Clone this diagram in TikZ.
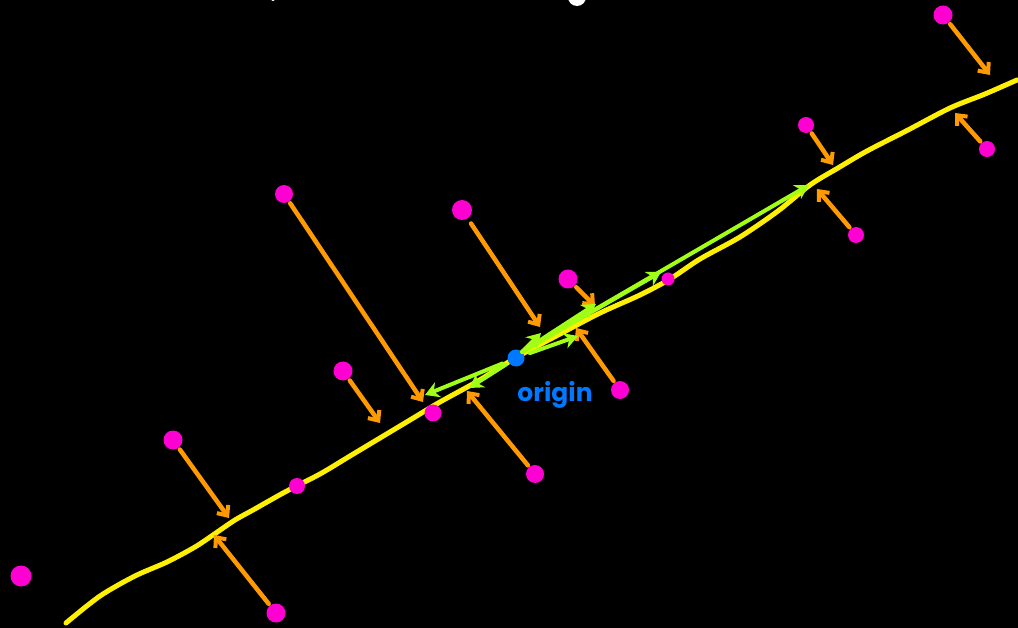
\documentclass[tikz,border=0pt]{standalone}
\usepackage{fontspec}
\newfontfamily\handfont{Poppins}
\usetikzlibrary{arrows.meta}
\definecolor{lineyellow}{RGB}{255,240,0}
\definecolor{arroworange}{RGB}{255,155,0}
\definecolor{dotmagenta}{RGB}{255,0,210}
\definecolor{arrowgreen}{RGB}{160,255,20}
\definecolor{originblue}{RGB}{0,120,255}
\tikzset{
  dotnode/.style={circle, fill=dotmagenta, inner sep=0pt, minimum size=16pt},
  smalldot/.style={dotnode, minimum size=13pt},
  oarrow/.style={draw=arroworange, line width=4.5pt, line cap=round, line join=round,
     -{Straight Barb[length=8pt,width=14pt,line width=4pt]}, shorten <=2pt},
  garrow/.style={draw=arrowgreen, line width=4pt, line cap=round,
     -{Stealth[length=14pt,width=16pt]}},
  yline/.style={draw=lineyellow, line width=5pt, line cap=round},
}
\begin{document}
\begin{tikzpicture}[x=1pt,y=-1pt]
\fill[black] (0,0) rectangle (1018,628);
\useasboundingbox (0,0) rectangle (1018,628);
% white marks at top edge
\fill[white] (577,-3) circle (9);
\fill[white] (273,-1) circle (2);
% yellow line
\draw[yline] plot[smooth, tension=0.5] coordinates {(66,623) (100,596) (135,576) (167,562) (195,547) (213,535) (235,520) (253,510) (285,492) (320,474) (350,456) (380,438) (410,420) (440,402) (478,381) (517,357) (560,334) (600,313) (640,295) (670,279) (700,259) (740,237) (778,211) (810,185) (838,168) (867,151) (908,130) (950,108) (985,94) (1017,80)};
% coordinates on the line
\coordinate (p1) at (990,75);
\coordinate (p2) at (833,165);
\coordinate (p3) at (955,113);
\coordinate (p4) at (817,189);
\coordinate (p5) at (423,402);
\coordinate (p6) at (540,327);
\coordinate (p7) at (595,306);
\coordinate (p8) at (576,328);
\coordinate (p9) at (380,423);
\coordinate (p10) at (467,391);
\coordinate (p11) at (229,518);
\coordinate (p12) at (214,535);
% magenta dots
\node[dotnode, minimum size=19pt] (m1) at (943,15) {};
\node[dotnode] (m2) at (806,125) {};
\node[dotnode] (m3) at (987,149) {};
\node[dotnode] (m4) at (856,235) {};
\node[smalldot, minimum width=18pt] (m5) at (284,194) {};
\node[dotnode, minimum size=20pt] (m6) at (462,210) {};
\node[dotnode, minimum size=19pt] (m7) at (568,279) {};
\node[smalldot] (m8) at (668,279) {};
\node[dotnode, minimum size=18pt] (m9) at (620,390) {};
\node[smalldot, minimum width=19pt] (m10) at (343,371) {};
\node[smalldot, minimum width=17pt] (m11) at (433,413) {};
\node[smalldot, minimum width=18pt] (m12) at (535,474) {};
\node[smalldot, minimum width=19pt] (m13) at (173,440) {};
\node[smalldot, minimum width=16pt] (m14) at (297,486) {};
\node[dotnode, minimum size=21pt] (m15) at (21,576) {};
\node[smalldot, minimum width=19pt] (m16) at (276,613) {};
% orange arrows
\draw[oarrow] (m1) -- (p1);
\draw[oarrow] (m2) -- (p2);
\draw[oarrow] (m3) -- (p3);
\draw[oarrow] (m4) -- (p4);
\draw[oarrow] (m5) -- (p5);
\draw[oarrow, shorten <=6pt] (m6) -- (p6);
\draw[oarrow] (m7) -- (p7);
\draw[oarrow] (m9) -- (p8);
\draw[oarrow] (m10) -- (p9);
\draw[oarrow] (m12) -- (p10);
\draw[oarrow] (m13) -- (p11);
\draw[oarrow] (m16) -- (p12);
% origin
\node[circle, fill=originblue, inner sep=0pt, minimum size=17pt] (o) at (516,358) {};
% green arrows
\coordinate (g1) at (425,395);
\coordinate (g2) at (469,388);
\coordinate (g3) at (578,336);
\coordinate (g4) at (541,333);
\coordinate (g5) at (596,304);
\coordinate (g6) at (661,272);
\coordinate (g7) at (809,185);
\draw[garrow, shorten <=6pt] (o) -- (g1);
\draw[garrow, shorten <=4pt] (o) -- (g2);
\draw[garrow, shorten <=6pt] (o) -- (g3);
\draw[garrow] (o) -- (g4);
\draw[garrow] (o.north east) -- (g5);
\draw[garrow] (o.north east) -- (g6);
\draw[garrow] (o.north east) -- (g7);
\node[text=originblue, font=\handfont\bfseries\fontsize{25}{28}\selectfont, inner sep=0pt] (lbl) at (555,395) {origin};
\end{tikzpicture}
\end{document}
